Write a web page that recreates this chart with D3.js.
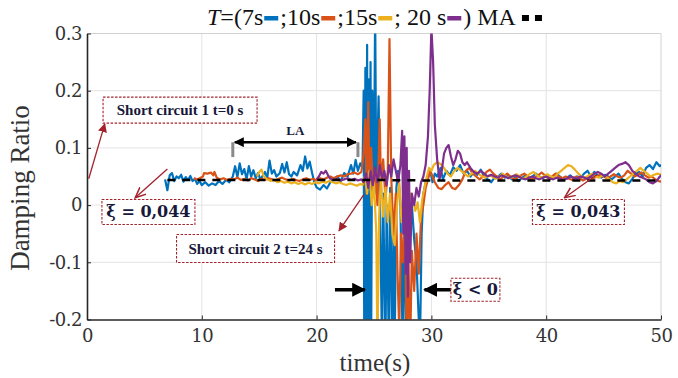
<!DOCTYPE html>
<html>
<head>
<meta charset="utf-8">
<script src="https://cdn.jsdelivr.net/npm/d3@7"></script>
<style>
  body { margin: 0; background: #fff; }
  svg { display: block; }
  svg text { font-family: 'Liberation Serif', 'Times New Roman', Times, serif; }
</style>
</head>
<body>
<div id="chart"></div>
<script>
// time (s), damping ratio
const blue7 = [
  [6.8,0.045],[7.0,0.026],[7.2,0.052],[7.4,0.056],[7.6,0.042],[7.8,0.05],[8.0,0.047],[8.2,0.053],[8.4,0.041],[8.6,0.049],
  [8.8,0.044],[9.0,0.051],[9.2,0.042],[9.4,0.046],[9.6,0.037],[9.8,0.042],[10.0,0.035],[10.3,0.04],[10.6,0.034],[10.9,0.038],
  [11.2,0.035],[11.5,0.042],[11.8,0.037],[12.1,0.044],[12.4,0.04],[12.7,0.05],[12.9,0.068],[13.1,0.049],[13.3,0.073],[13.5,0.054],
  [13.7,0.063],[13.9,0.045],[14.1,0.068],[14.3,0.05],[14.5,0.061],[14.7,0.047],[14.9,0.056],[15.1,0.045],[15.3,0.051],[15.5,0.058],
  [15.7,0.047],[15.9,0.078],[16.1,0.055],[16.3,0.061],[16.5,0.05],[16.8,0.056],[17.0,0.072],[17.2,0.057],[17.4,0.075],[17.6,0.054],
  [17.8,0.05],[18.0,0.058],[18.3,0.052],[18.6,0.07],[18.8,0.06],[19.0,0.085],[19.2,0.064],[19.4,0.076],[19.6,0.057],[19.8,0.04],
  [20.0,0.031],[20.3,0.027],[20.6,0.035],[20.9,0.029],[21.2,0.04],[21.5,0.046],[21.8,0.05],[22.1,0.042],[22.4,0.056],[22.7,0.05],
  [23.0,0.07],[23.2,0.055],[23.4,0.079],[23.6,0.06],[23.8,0.073],[24.0,0.065],
  [24.1,0.2],[24.15,-0.25],[24.25,0.24],[24.3,-0.25],[24.4,0.28],[24.45,-0.25],[24.55,0.22],[24.6,-0.25],[24.7,0.25],[24.75,-0.25],
  [24.85,0.2],[25.0,0.05],[25.1,0.34],[25.2,0.02],[25.3,0.1],[25.4,0.19],[25.5,0.03],[25.7,-0.25],[25.8,0.02],[26.0,-0.25],
  [26.1,0.0],[26.3,-0.25],[26.4,0.03],[26.6,-0.25],[26.7,-0.02],[26.8,-0.25],[26.95,0.03],[27.1,0.06],[27.3,0.0],[27.5,-0.25],
  [27.6,-0.02],[27.8,-0.25],[27.9,0.02],[28.1,-0.05],[28.3,0.0],[28.5,-0.06],[28.7,-0.1],[29.0,-0.25],[29.15,-0.05],[29.3,0.02],
  [29.5,0.04],[29.7,0.05],[29.9,0.06],
  [30.1,0.04],[30.3,0.055],[30.5,0.05],[30.8,0.065],[31.0,0.045],[31.3,0.06],[31.6,0.052],[31.9,0.066],[32.2,0.06],[32.5,0.07],
  [32.8,0.055],[33.1,0.06],[33.4,0.05],[33.7,0.058],[34.0,0.053],[34.3,0.062],[34.6,0.05],[34.9,0.045],[35.2,0.04],[35.5,0.048],
  [35.8,0.05],[36.1,0.055],[36.4,0.048],[36.7,0.052],[37.0,0.045],[37.3,0.05],[37.6,0.042],[37.9,0.048],[38.2,0.052],[38.5,0.046],
  [38.8,0.05],[39.1,0.055],[39.4,0.05],[39.7,0.047],[40.0,0.052],[40.3,0.045],[40.6,0.05],[40.9,0.055],[41.2,0.05],[41.5,0.045],
  [41.8,0.048],[42.1,0.052],[42.4,0.046],[42.7,0.05],[43.0,0.048],[43.3,0.055],[43.6,0.06],[43.9,0.05],[44.2,0.058],[44.5,0.052],
  [44.8,0.048],[45.1,0.053],[45.4,0.05],[45.7,0.045],[46.0,0.05],[46.3,0.055],[46.6,0.046],[46.9,0.04],[47.2,0.038],[47.5,0.046],
  [47.8,0.055],[48.1,0.058],[48.4,0.05],[48.7,0.065],[49.0,0.07],[49.3,0.063],[49.6,0.075],[49.9,0.068],[50.2,0.072]
];
const orange10 = [
  [9.3,0.047],[9.6,0.045],[9.9,0.048],[10.1,0.05],[10.2,0.056],[10.5,0.055],[10.8,0.057],[11.0,0.052],[11.1,0.058],[11.3,0.048],
  [11.6,0.045],[11.9,0.047],[12.2,0.044],[12.5,0.046],[12.8,0.045],[13.1,0.048],[13.4,0.044],[13.7,0.046],[14.0,0.043],[14.3,0.047],
  [14.6,0.045],[14.9,0.042],[15.2,0.046],[15.5,0.044],[15.8,0.047],[16.1,0.045],[16.4,0.043],[16.7,0.046],[17.0,0.048],[17.3,0.045],
  [17.6,0.043],[17.9,0.046],[18.2,0.044],[18.5,0.042],[18.8,0.045],[19.1,0.047],[19.4,0.044],[19.7,0.046],[20.0,0.043],[20.3,0.047],
  [20.6,0.045],[20.9,0.048],[21.2,0.05],[21.5,0.047],[21.8,0.05],[22.1,0.052],[22.4,0.05],[22.7,0.054],[23.0,0.055],[23.3,0.057],
  [23.6,0.054],[23.9,0.058],
  [24.1,0.09],[24.25,0.15],[24.35,0.02],[24.5,0.18],[24.6,0.05],[24.75,0.1],[24.9,0.03],[25.1,0.06],[25.3,0.0],[25.5,0.15],
  [25.6,0.04],[25.8,0.08],[26.0,0.01],[26.2,0.06],[26.35,0.29],[26.5,0.05],[26.7,-0.05],[26.9,0.02],[27.05,-0.12],[27.2,-0.22],
  [27.35,-0.05],[27.5,-0.1],[27.7,-0.02],[27.85,-0.25],[28.0,-0.1],[28.15,-0.25],[28.3,-0.08],[28.5,-0.15],[28.7,-0.05],[28.9,-0.12],
  [29.1,-0.02],[29.3,0.0],[29.5,0.03],[29.7,0.045],[29.9,0.06],
  [30.1,0.05],[30.3,0.04],[30.6,0.03],[30.9,0.028],[31.2,0.035],[31.5,0.04],[31.8,0.03],[32.1,0.028],[32.4,0.035],[32.7,0.045],
  [33.0,0.06],[33.3,0.065],[33.6,0.055],[33.9,0.05],[34.2,0.045],[34.5,0.05],[34.8,0.058],[35.1,0.062],[35.4,0.055],[35.7,0.05],
  [36.0,0.045],[36.3,0.05],[36.6,0.055],[36.9,0.05],[37.2,0.045],[37.5,0.048],[37.8,0.052],[38.1,0.055],[38.4,0.05],[38.7,0.045],
  [39.0,0.048],[39.3,0.052],[39.6,0.057],[39.9,0.052],[40.2,0.046],[40.5,0.05],[40.8,0.055],[41.1,0.05],[41.4,0.047],[41.7,0.05],
  [42.0,0.046],[42.3,0.044],[42.6,0.05],[42.9,0.047],[43.2,0.043],[43.5,0.046],[43.8,0.05],[44.1,0.047],[44.4,0.05],[44.7,0.053],
  [45.0,0.05],[45.3,0.047],[45.6,0.05],[45.9,0.054],[46.2,0.05],[46.5,0.048],[46.8,0.052],[47.1,0.06],[47.4,0.055],[47.7,0.05],
  [48.0,0.053],[48.3,0.057],[48.6,0.052],[48.9,0.048],[49.2,0.05],[49.5,0.045],[49.8,0.042],[50.2,0.04]
];
const yellow15 = [
  [14.8,0.05],[15.0,0.058],[15.2,0.062],[15.4,0.05],[15.7,0.045],[16.0,0.042],[16.3,0.044],[16.6,0.04],[16.9,0.042],[17.2,0.039],
  [17.5,0.041],[17.8,0.038],[18.1,0.04],[18.4,0.037],[18.7,0.039],[19.0,0.036],[19.3,0.039],[19.6,0.037],[19.9,0.04],[20.2,0.038],
  [20.5,0.041],[20.8,0.039],[21.1,0.042],[21.4,0.04],[21.7,0.038],[22.0,0.04],[22.3,0.037],[22.6,0.035],[22.9,0.038],[23.2,0.036],
  [23.5,0.034],[23.8,0.037],[24.0,0.035],
  [24.2,0.05],[24.4,0.02],[24.6,0.06],[24.8,0.0],[25.0,0.04],[25.2,-0.05],[25.3,-0.25],[25.45,-0.02],[25.6,0.05],[25.8,-0.02],
  [26.0,0.03],[26.2,-0.03],[26.4,0.02],[26.6,-0.05],[26.8,-0.07],[27.0,0.0],[27.2,0.04],[27.4,-0.03],[27.6,0.01],[27.8,-0.06],
  [28.0,0.0],[28.2,0.02],[28.4,0.01],[28.6,-0.01],[28.8,0.005],[29.0,-0.03],[29.2,0.01],[29.4,0.03],[29.6,0.05],[29.8,0.065],
  [30.0,0.06],
  [30.2,0.07],[30.5,0.075],[30.8,0.072],[31.1,0.065],[31.4,0.055],[31.7,0.05],[32.0,0.06],[32.3,0.065],[32.6,0.06],[32.9,0.055],
  [33.2,0.05],[33.5,0.055],[33.8,0.06],[34.1,0.055],[34.4,0.05],[34.7,0.048],[35.0,0.052],[35.3,0.05],[35.6,0.046],[35.9,0.05],
  [36.2,0.055],[36.5,0.05],[36.8,0.047],[37.1,0.05],[37.4,0.054],[37.7,0.05],[38.0,0.046],[38.3,0.05],[38.6,0.055],[38.9,0.058],
  [39.2,0.052],[39.5,0.048],[39.8,0.05],[40.1,0.054],[40.4,0.05],[40.7,0.048],[41.0,0.055],[41.3,0.06],[41.6,0.065],[41.9,0.07],
  [42.2,0.068],[42.5,0.062],[42.8,0.055],[43.1,0.05],[43.4,0.048],[43.7,0.052],[44.0,0.055],[44.3,0.05],[44.6,0.048],[44.9,0.052],
  [45.2,0.05],[45.5,0.045],[45.8,0.04],[46.1,0.038],[46.4,0.042],[46.7,0.04],[47.0,0.045],[47.3,0.05],[47.6,0.055],[47.9,0.06],
  [48.2,0.065],[48.5,0.06],[48.8,0.055],[49.1,0.05],[49.4,0.053],[49.7,0.055],[50.2,0.052]
];
const purple20 = [
  [20.0,0.045],[20.2,0.05],[20.4,0.058],[20.6,0.055],[20.8,0.06],[21.0,0.052],[21.2,0.046],[21.5,0.044],[21.8,0.046],[22.1,0.043],
  [22.4,0.045],[22.7,0.047],[23.0,0.044],[23.3,0.046],[23.6,0.043],[23.9,0.045],
  [24.1,0.04],[24.3,0.055],[24.5,0.03],[24.7,0.06],[24.9,0.035],[25.1,0.065],[25.3,0.04],[25.5,0.07],[25.7,0.045],[25.9,0.06],
  [26.1,0.035],[26.3,0.07],[26.5,0.05],[26.7,0.08],[26.9,0.06],[27.1,0.04],[27.3,0.07],[27.45,0.13],[27.55,-0.05],[27.65,0.12],
  [27.75,-0.12],[27.85,0.1],[27.95,-0.16],[28.05,0.06],[28.15,-0.1],[28.3,0.02],[28.5,0.0],[28.7,0.03],[28.9,0.015],[29.1,0.04],
  [29.3,0.05],[29.5,0.07],[29.7,0.12],[29.85,0.2],[30.0,0.31],[30.15,0.25],[30.3,0.14],[30.5,0.08],[30.7,0.045],
  [30.9,0.06],[31.1,0.09],[31.3,0.1],[31.5,0.105],[31.7,0.085],[31.9,0.07],[32.1,0.08],[32.3,0.095],[32.5,0.09],[32.7,0.075],
  [32.9,0.07],[33.1,0.075],[33.4,0.065],[33.7,0.058],[34.0,0.055],[34.3,0.06],[34.6,0.055],[34.9,0.05],[35.2,0.053],[35.5,0.05],
  [35.8,0.048],[36.1,0.052],[36.4,0.05],[36.7,0.047],[37.0,0.05],[37.3,0.052],[37.6,0.05],[37.9,0.047],[38.2,0.045],[38.5,0.048],
  [38.8,0.05],[39.1,0.047],[39.4,0.045],[39.7,0.048],[40.0,0.05],[40.3,0.047],[40.6,0.045],[40.9,0.048],[41.2,0.046],[41.5,0.044],
  [41.8,0.046],[42.1,0.05],[42.4,0.048],[42.7,0.046],[43.0,0.05],[43.3,0.048],[43.6,0.046],[43.9,0.05],[44.2,0.055],[44.5,0.058],
  [44.8,0.055],[45.1,0.05],[45.4,0.055],[45.7,0.06],[46.0,0.065],[46.3,0.07],[46.6,0.072],[46.9,0.075],[47.2,0.07],[47.5,0.06],
  [47.8,0.055],[48.1,0.05],[48.4,0.048],[48.7,0.045],[49.0,0.04],[49.3,0.038],[49.6,0.042],[49.9,0.05],[50.2,0.055]
];
const movingAvg = [[7,0.044],[24,0.044],[30,0.043],[50,0.043]];

const seriesNames = ["7s", "10s", "15s", "20 s"];
const seriesColors = ["#0072BD", "#D95319", "#EDB120", "#7E2F8E"];
const seriesData = [blue7, orange10, yellow15, purple20];

const xTicks = [0, 10, 20, 30, 40, 50];
const yTicks = [-0.2, -0.1, 0, 0.1, 0.2, 0.3];
const yTickLabels = ["-0.2", "-0.1", "0", "0.1", "0.2", "0.3"];

const width = 678, height = 378;
const margin = { top: 33.5, right: 17, bottom: 58.5, left: 87 };
const digitSerif = "'DejaVu Serif', serif";

const svg = d3.select("#chart").append("svg")
  .attr("width", width)
  .attr("height", height);

const x = d3.scaleLinear().domain([0, 50]).range([margin.left, width - margin.right]);
const y = d3.scaleLinear().domain([-0.2, 0.3]).range([height - margin.bottom, margin.top]);

const redDark = "#a3232c";
const textDark = "#17183a";

svg.append("defs").append("clipPath").attr("id", "plotClip")
  .append("rect")
  .attr("x", x(0)).attr("y", y(0.3))
  .attr("width", x(50) - x(0)).attr("height", y(-0.2) - y(0.3));

// grid
const grid = svg.append("g").attr("stroke", "#e3e3e3").attr("stroke-width", 1);
grid.selectAll(".gx").data(xTicks.slice(1, -1)).join("line")
  .attr("x1", d => x(d)).attr("x2", d => x(d))
  .attr("y1", y(-0.2)).attr("y2", y(0.3));
grid.selectAll(".gy").data(yTicks.slice(1, -1)).join("line")
  .attr("x1", x(0)).attr("x2", x(50))
  .attr("y1", d => y(d)).attr("y2", d => y(d));

// frame top/right
svg.append("line").attr("x1", x(0)).attr("x2", x(50)).attr("y1", y(0.3)).attr("y2", y(0.3))
  .attr("stroke", "#d2d2d2");
svg.append("line").attr("x1", x(50)).attr("x2", x(50)).attr("y1", y(0.3)).attr("y2", y(-0.2))
  .attr("stroke", "#d2d2d2");

// series
const line = d3.line().x(d => x(d[0])).y(d => y(d[1]));
const plot = svg.append("g").attr("clip-path", "url(#plotClip)");
seriesData.forEach((s, i) => {
  plot.append("path")
    .datum(s)
    .attr("fill", "none")
    .attr("stroke", seriesColors[i])
    .attr("stroke-width", 2.2)
    .attr("stroke-linejoin", "round")
    .attr("d", line);
});
plot.append("path")
  .datum(movingAvg)
  .attr("fill", "none")
  .attr("stroke", "#000")
  .attr("stroke-width", 2.5)
  .attr("stroke-dasharray", "8,7")
  .attr("d", line);

// axes
const xAxis = svg.append("g")
  .attr("transform", `translate(0,${y(-0.2)})`)
  .call(d3.axisBottom(x).tickValues(xTicks).tickSizeInner(-4).tickSizeOuter(0).tickPadding(10));
const yAxis = svg.append("g")
  .attr("transform", `translate(${x(0)},0)`)
  .call(d3.axisLeft(y).tickValues(yTicks).tickFormat((d, i) => yTickLabels[i]).tickSizeInner(-4).tickSizeOuter(0).tickPadding(5));
[xAxis, yAxis].forEach(g => {
  g.attr("font-family", null);
  g.select(".domain").attr("stroke", "#262626").attr("stroke-width", 1.6);
  g.selectAll(".tick line").attr("stroke", "#262626");
  g.selectAll(".tick text")
    .style("font-family", digitSerif)
    .style("letter-spacing", "-0.5px")
    .attr("font-size", 18)
    .attr("fill", "#333");
});
xAxis.selectAll(".tick text").attr("dy", "0.7em");

svg.append("text")
  .attr("x", 375).attr("y", 371)
  .attr("text-anchor", "middle")
  .attr("font-size", 25)
  .attr("fill", "#333")
  .text("time(s)");
svg.append("text")
  .attr("transform", "translate(29,188) rotate(-90)")
  .attr("text-anchor", "middle")
  .attr("font-size", 27)
  .attr("fill", "#333")
  .text("Damping Ratio");

// title with legend swatches
const titleParts = [
  { text: "T", italic: true }, { text: "=(7s" }, { swatch: 0 },
  { text: ";10s" }, { swatch: 1 }, { text: ";15s" }, { swatch: 2 },
  { text: "; 20 s" }, { swatch: 3 }, { text: ") MA" }, { ma: true }
];
const title = svg.append("g");
let cx = 207;
const baseY = 25;
titleParts.forEach(p => {
  if (p.text) {
    const t = title.append("text")
      .attr("x", cx).attr("y", baseY)
      .attr("font-size", 24)
      .attr("fill", "#111")
      .attr("font-style", p.italic ? "italic" : null)
      .text(p.text);
    cx += t.node().getComputedTextLength() + (p.italic ? 0 : 1);
  } else if (p.swatch !== undefined) {
    title.append("rect")
      .attr("x", cx).attr("y", baseY - 9)
      .attr("width", 14).attr("height", 4.5)
      .attr("fill", seriesColors[p.swatch]);
    cx += 16;
  } else if (p.ma) {
    cx += 5;
    [0, 13].forEach(o => title.append("rect")
      .attr("x", cx + o).attr("y", baseY - 10)
      .attr("width", 7).attr("height", 6)
      .attr("fill", "#000"));
  }
});

// annotations
const ann = svg.append("g");
ann.append("defs").html(`
  <marker id="headFill" viewBox="0 0 10 10" refX="9" refY="5" markerWidth="7" markerHeight="7" orient="auto-start-reverse">
    <path d="M0,0 L10,5 L0,10 z" fill="${redDark}"/>
  </marker>
  <marker id="headOpen" viewBox="0 0 10 10" refX="9" refY="5" markerWidth="9" markerHeight="9" orient="auto">
    <path d="M0,1 L9,5 L0,9" fill="none" stroke="${redDark}" stroke-width="1.3"/>
  </marker>
  <marker id="headBlack" viewBox="0 0 10 10" refX="9" refY="5" markerWidth="4" markerHeight="4" orient="auto-start-reverse">
    <path d="M0,0 L10,5 L0,10 z" fill="#000"/>
  </marker>`);

function labelBox(t0, v0, w, h, label, size, family) {
  const bx = x(t0), by = y(v0) - h / 2;
  ann.append("rect")
    .attr("x", bx).attr("y", by).attr("width", w).attr("height", h)
    .attr("fill", "#fff")
    .attr("stroke", redDark).attr("stroke-width", 1.1)
    .attr("stroke-dasharray", "2.5,1.5");
  const t = ann.append("text")
    .attr("x", bx + w / 2).attr("y", by + h / 2)
    .attr("text-anchor", "middle")
    .attr("dominant-baseline", "central")
    .attr("font-weight", "bold")
    .attr("font-size", size)
    .attr("fill", textDark)
    .text(label);
  if (family) t.style("font-family", family);
}
function arrow(t1, v1, t2, v2, marker, color, w) {
  ann.append("line")
    .attr("x1", x(t1)).attr("y1", y(v1))
    .attr("x2", x(t2)).attr("y2", y(v2))
    .attr("stroke", color).attr("stroke-width", w)
    .attr("marker-end", `url(#${marker})`);
}

// short circuit 1
arrow(0.15, 0.046, 1.55, 0.142, "headFill", redDark, 1.3);
labelBox(1.4, 0.166, 154, 26, "Short circuit 1 t=0 s", 15);

// LA
const laStart = 12.7, laEnd = 23.6, laV = 0.110;
[laStart, laEnd].forEach(t => ann.append("line")
  .attr("x1", x(t)).attr("x2", x(t))
  .attr("y1", y(laV)).attr("y2", y(0.084))
  .attr("stroke", "#8a8a8a").attr("stroke-width", 3));
ann.append("line")
  .attr("x1", x(laStart) + 2).attr("x2", x(laEnd) - 2)
  .attr("y1", y(laV)).attr("y2", y(laV))
  .attr("stroke", "#000").attr("stroke-width", 2.5)
  .attr("marker-start", "url(#headBlack)")
  .attr("marker-end", "url(#headBlack)");
ann.append("text")
  .attr("x", x((laStart + laEnd) / 2)).attr("y", y(laV) - 7)
  .attr("text-anchor", "middle")
  .attr("font-weight", "bold").attr("font-size", 13)
  .attr("fill", textDark)
  .text("LA");

// xi = 0,044
arrow(7.0, 0.063, 4.2, 0.013, "headOpen", redDark, 1.3);
labelBox(1.3, -0.012, 93, 25, "ξ = 0,044", 16, digitSerif);

// short circuit 2
arrow(24.1, 0.018, 21.95, -0.045, "headFill", redDark, 1.3);
labelBox(7.8, -0.076, 158, 28, "Short circuit 2 t=24 s", 15);

// xi = 0,043
arrow(44.4, 0.053, 41.6, 0.013, "headOpen", redDark, 1.3);
labelBox(38.8, -0.012, 92, 25, "ξ = 0,043", 16, digitSerif);

// xi < 0
const negV = -0.148;
ann.append("line")
  .attr("x1", x(21.6)).attr("x2", x(24.2))
  .attr("y1", y(negV)).attr("y2", y(negV))
  .attr("stroke", "#000").attr("stroke-width", 3.5)
  .attr("marker-end", "url(#headBlack)");
ann.append("line")
  .attr("x1", x(31.8)).attr("x2", x(29.4))
  .attr("y1", y(negV)).attr("y2", y(negV))
  .attr("stroke", "#000").attr("stroke-width", 3.5)
  .attr("marker-end", "url(#headBlack)");
labelBox(31.7, negV, 49, 23, "ξ < 0", 16, digitSerif);
</script>
</body>
</html>
